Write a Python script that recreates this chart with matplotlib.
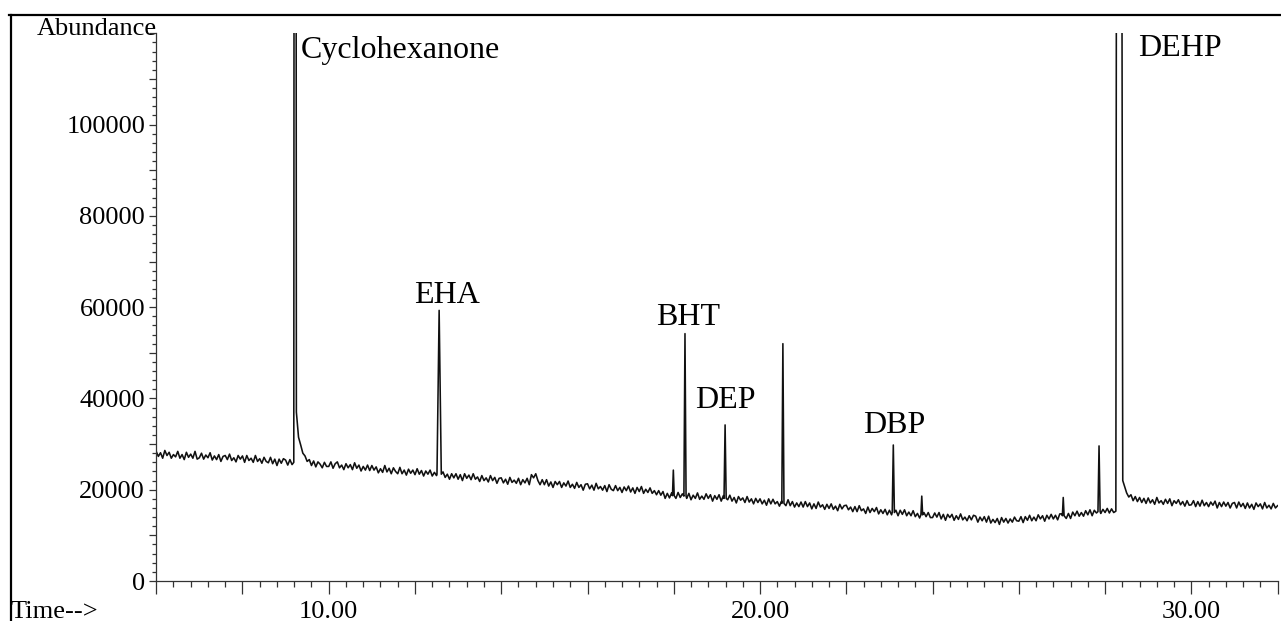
import numpy as np
import matplotlib
matplotlib.use("Agg")
import matplotlib.pyplot as plt
from matplotlib.ticker import MultipleLocator, FuncFormatter
from matplotlib.lines import Line2D

plt.rcParams['font.family'] = ['Liberation Serif', 'DejaVu Serif']

# ---------------- data (abundance in thousands) ----------------
grid_start = 6.0
grid_step = 0.05
baseline_k = [
    28.4, 27.3, 28.1, 26.9, 28.6, 27.5, 28.2, 26.9, 27.7, 27.2, 28.4, 26.9, 27.7, 26.6, 28.2, 27.1, 27.8, 26.9, 28.4, 26.7,  # 6
    27.0, 28.0, 26.7, 27.6, 27.0, 28.1, 26.5, 27.4, 26.6, 27.7, 26.2, 27.3, 27.5, 26.6, 27.8, 26.4, 27.0, 26.1, 27.5, 26.7,  # 7
    27.4, 26.0, 27.5, 26.4, 26.9, 26.0, 27.5, 26.2, 26.8, 25.8, 27.1, 26.2, 25.9, 27.1, 25.7, 26.7, 25.3, 26.7, 25.8, 26.8,  # 8
    26.5, 25.4, 26.6, 25.5, 26.0, 37.0, 31.5, 29.8, 28.0, 27.4, 26.2, 26.6, 25.3, 26.3, 25.0, 26.1, 25.6, 24.8, 26.0, 25.1,  # 9
    25.1, 26.1, 24.7, 25.7, 26.1, 24.8, 25.4, 24.4, 25.7, 24.8, 25.5, 24.4, 25.9, 24.7, 25.4, 24.1, 25.1, 24.3, 25.4, 24.2,  # 10
    25.3, 24.3, 25.0, 23.7, 24.6, 23.8, 25.3, 23.9, 24.7, 23.5, 24.8, 24.0, 23.5, 24.9, 23.5, 24.3, 23.2, 24.5, 23.6, 24.3,  # 11
    23.3, 24.6, 23.4, 24.2, 23.0, 24.1, 23.4, 24.3, 23.0, 23.8, 23.1, 23.4, 23.4, 23.9, 22.7, 23.4, 22.3, 23.5, 22.6, 23.5,  # 12
    22.3, 23.3, 22.0, 23.5, 22.5, 23.2, 22.2, 23.5, 22.3, 22.8, 21.8, 23.1, 22.0, 22.6, 21.7, 23.1, 22.0, 22.7, 21.4, 22.5,  # 13
    22.6, 21.5, 22.3, 21.2, 22.7, 21.6, 22.1, 21.4, 22.5, 21.1, 22.2, 21.5, 22.5, 21.1, 23.3, 22.6, 23.5, 22.0, 21.1, 22.2,  # 14
    21.1, 22.2, 20.8, 21.7, 20.5, 21.8, 21.1, 21.8, 20.5, 21.5, 20.8, 21.9, 20.5, 21.2, 20.3, 21.6, 20.5, 21.1, 19.9, 21.2,  # 15
    21.3, 20.2, 21.0, 19.9, 21.4, 20.2, 20.7, 19.9, 20.9, 19.6, 21.1, 20.1, 19.8, 20.9, 19.8, 20.5, 19.4, 20.6, 19.8, 20.8,  # 16
    19.5, 20.4, 19.2, 20.5, 19.6, 20.7, 19.2, 20.1, 19.4, 20.4, 19.2, 19.8, 18.9, 19.8, 18.8, 19.6, 18.1, 19.2, 18.2, 19.3,  # 17
    18.7, 18.1, 19.4, 18.3, 19.1, 18.6, 18.1, 19.2, 17.8, 18.8, 18.1, 19.3, 17.9, 18.6, 17.9, 19.1, 18.1, 18.9, 17.5, 18.7,  # 18
    17.9, 18.9, 17.5, 18.7, 18.1, 17.8, 18.8, 17.5, 18.3, 17.1, 18.5, 17.7, 18.2, 17.2, 18.5, 17.3, 18.0, 16.9, 18.1, 17.2,  # 19
    18.0, 16.9, 17.7, 16.6, 18.0, 16.9, 17.9, 16.9, 17.4, 16.4, 17.5, 17.0, 16.5, 17.8, 16.5, 17.4, 16.2, 17.1, 16.3, 17.3,  # 20
    16.2, 17.4, 16.3, 17.1, 15.8, 16.9, 15.9, 17.3, 16.2, 16.7, 15.7, 16.8, 15.9, 16.9, 15.7, 16.4, 15.4, 16.8, 15.8, 16.5,  # 21
    16.6, 15.6, 16.2, 15.2, 16.3, 15.2, 16.5, 15.4, 15.8, 14.8, 16.2, 15.0, 15.9, 15.2, 16.1, 14.7, 15.6, 14.8, 15.7, 14.5,  # 22
    15.5, 14.5, 15.0, 15.5, 14.3, 15.5, 14.6, 15.6, 14.3, 15.1, 14.3, 15.4, 14.1, 14.8, 13.8, 14.5, 15.0, 14.1, 15.0, 13.9,  # 23
    13.9, 14.9, 14.0, 15.0, 13.6, 14.6, 13.3, 14.6, 13.9, 14.6, 13.3, 14.3, 13.5, 14.7, 13.4, 14.0, 13.2, 14.3, 13.4, 14.4,  # 24
    14.2, 12.9, 14.0, 13.2, 14.1, 12.9, 14.2, 12.7, 13.5, 12.8, 13.7, 12.4, 13.9, 12.9, 13.7, 12.7, 13.6, 12.9, 14.0, 13.2,  # 25
    13.1, 14.1, 12.8, 14.1, 13.3, 14.4, 13.2, 14.0, 13.2, 14.5, 13.6, 14.3, 13.1, 14.4, 13.6, 14.6, 13.6, 14.4, 13.4, 14.7,  # 26
    14.7, 14.3, 13.7, 14.8, 13.7, 15.1, 14.3, 15.3, 14.2, 15.0, 14.2, 15.4, 14.5, 15.6, 14.3, 15.5, 14.9, 15.2, 14.8, 15.7,  # 27
    15.0, 15.9, 14.9, 15.8, 15.0, 15.3, 15.3, 15.3, 15.3, 20.8, 19.3, 18.4, 18.9, 17.6, 18.5, 17.4, 18.3, 17.2, 18.1, 17.0,  # 28
    18.2, 17.1, 17.8, 16.8, 18.3, 17.1, 17.6, 16.8, 17.9, 17.0, 18.0, 16.5, 17.6, 17.0, 17.8, 16.7, 17.4, 16.4, 17.6, 16.6,  # 29
    16.7, 17.6, 16.3, 17.4, 16.4, 17.7, 16.5, 17.2, 16.3, 17.3, 16.6, 17.5, 16.0, 17.2, 16.3, 17.3, 16.4, 17.2, 16.0, 17.0,  # 30
    17.2, 16.0, 17.3, 16.3, 17.0, 15.9, 17.1, 16.0, 16.8, 15.7, 17.1, 16.3, 16.9, 15.8, 17.2, 16.0, 16.6, 15.8, 17.0, 16.0,  # 31
    16.5,                                                                                                                     # 32.00
]
assert len(baseline_k) == 521, len(baseline_k)

# narrow peaks: apex time (min), apex abundance (thousands), half width (min)
peak_times = [12.56, 17.99, 18.26, 19.19, 20.53, 23.09, 23.75, 27.03, 27.86]
peak_heights_k = [59.3, 24.3, 54.2, 34.2, 52.0, 29.8, 18.6, 18.3, 29.6]
peak_halfwidth = [0.05, 0.02, 0.025, 0.025, 0.025, 0.025, 0.02, 0.02, 0.025]

# off-scale peaks (rise, apex, end of fall)
cyclo_t = [9.19, 9.22, 9.25]
cyclo_k = [26.0, 600.0, 37.0]
dehp_t = [28.25, 28.31, 28.41]
dehp_k = [15.3, 600.0, 22.0]

labels = ["Cyclohexanone", "EHA", "BHT", "DEP", "DBP", "DEHP"]
label_t = [9.36, 11.99, 17.58, 18.50, 22.40, 28.77]
label_k = [114.5, 60.9, 56.0, 37.9, 32.4, 115.0]

# ---------------- assemble trace ----------------
grid_t = np.round(grid_start + grid_step * np.arange(len(baseline_k)), 3)
grid_k = np.array(baseline_k)

windows = [(cyclo_t[0], cyclo_t[-1]), (dehp_t[0], dehp_t[-1])]
windows += [(t - w, t + w) for t, w in zip(peak_times, peak_halfwidth)]
keep = np.ones(len(grid_t), bool)
for a, b in windows:
    keep &= ~((grid_t >= a - 1e-9) & (grid_t <= b + 1e-9))

pts_t = list(grid_t[keep])
pts_k = list(grid_k[keep])
for t, h, w in zip(peak_times, peak_heights_k, peak_halfwidth):
    i = int(np.argmin(np.abs(grid_t - t)))
    b = grid_k[i]
    pts_t += [t - w, t, t + w]
    pts_k += [b, h, b]
pts_t += cyclo_t + dehp_t
pts_k += cyclo_k + dehp_k
order = np.argsort(pts_t, kind="stable")
trace_t = np.array(pts_t)[order]
trace_a = np.array(pts_k)[order] * 1000

# ---------------- figure ----------------
W, H = 1281, 621
fig = plt.figure(figsize=(W / 100, H / 100), dpi=100)
ax = fig.add_axes([156.2 / W, 1 - 581 / H, (1277.6 - 156.2) / W, (581 - 33.3) / H])

ax.plot(trace_t, trace_a, color="#111111", lw=1.15, clip_on=True)
ax.set_xlim(6.0, 32.0)
ax.set_ylim(0, 120000)

for s in ["top", "right"]:
    ax.spines[s].set_visible(False)
for s in ["left", "bottom"]:
    ax.spines[s].set_linewidth(0.9)
    ax.spines[s].set_color("#333333")

ax.xaxis.set_major_locator(MultipleLocator(2))
ax.xaxis.set_minor_locator(MultipleLocator(0.4))
ax.xaxis.set_major_formatter(FuncFormatter(lambda v, p: f"{v:.2f}" if abs(v % 10) < 1e-6 else ""))
ax.yaxis.set_major_locator(MultipleLocator(10000))
ax.yaxis.set_minor_locator(MultipleLocator(2000))
ax.yaxis.set_major_formatter(FuncFormatter(
    lambda v, p: f"{int(round(v))}" if abs(v % 20000) < 1e-6 and v < 110000 else ""))

ax.tick_params(axis="x", which="major", length=9.5, width=0.9, direction="out", pad=5, labelsize=19, color="#333333")
ax.tick_params(axis="x", which="minor", length=4.3, width=0.9, direction="out", color="#333333")
ax.tick_params(axis="y", which="major", length=5, width=0.9, direction="out", pad=3, labelsize=19, color="#333333")
ax.tick_params(axis="y", which="minor", length=3, width=0.9, direction="out", color="#333333")

for name, t, k in zip(labels, label_t, label_k):
    ax.text(t, k * 1000, name, fontsize=23, ha="left", va="baseline", clip_on=False)

fig.text(157 / W, 1 - 35 / H, "Abundance", fontsize=19, ha="right", va="baseline")
fig.text(11 / W, 1 - 618 / H, "Time-->", fontsize=19, ha="left", va="baseline")

# outer frame (top and left)
fig.add_artist(Line2D([9 / W, 1.0], [1 - 15 / H, 1 - 15 / H], transform=fig.transFigure, color="black", lw=1.6))
fig.add_artist(Line2D([10.5 / W, 10.5 / W], [0, 1 - 15 / H], transform=fig.transFigure, color="black", lw=1.6))

fig.savefig("out.png", dpi=100)
